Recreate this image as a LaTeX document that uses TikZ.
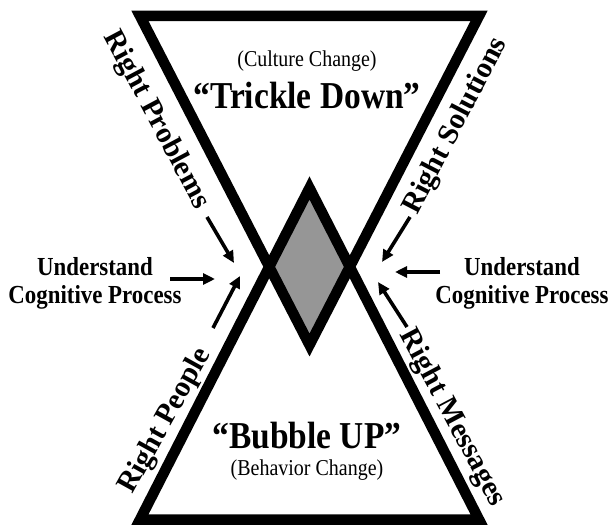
\documentclass[tikz,border=0pt]{standalone}
\usepackage{fontspec}
\setmainfont{Liberation Serif}[FakeStretch=0.88]
\newfontfamily\rotfont{Liberation Serif}
\usetikzlibrary{arrows.meta}
\definecolor{diamondgray}{RGB}{150,150,150}
\begin{document}
\begin{tikzpicture}[x=1bp,y=-1bp,
  tri/.style={line width=10.5bp, line join=miter, draw=black},
  pointer/.style={line width=3.6bp, -{Triangle[length=12bp,width=11bp]}},
  bigtitle/.style={font=\bfseries\fontsize{38bp}{40bp}\selectfont, inner sep=0pt},
  subtitle/.style={font=\fontsize{22.7bp}{24bp}\selectfont, inner sep=0pt},
  sidetext/.style={font=\bfseries\fontsize{26bp}{28bp}\selectfont, align=center, inner sep=0pt},
  edgetext/.style={font=\rotfont\bfseries\fontsize{29.5bp}{31bp}\selectfont, inner sep=0pt}]
\useasboundingbox (0,0) rectangle (611,526);
% triangle corners (centre line)
\coordinate (tl) at (140,16);
\coordinate (tr) at (479,16);
\coordinate (tb) at (309.5,345);
\coordinate (bl) at (140,519.5);
\coordinate (br) at (479,519.5);
\coordinate (bt) at (309.5,188);
% grey overlap
\begin{scope}
  \clip (tl) -- (tr) -- (tb) -- cycle;
  \fill[diamondgray] (bl) -- (br) -- (bt) -- cycle;
\end{scope}
\draw[tri] (tl) -- (tr) -- (tb) -- cycle;
\draw[tri] (bl) -- (br) -- (bt) -- cycle;
% titles
\node[subtitle] (culture) at (307,61) {(Culture Change)};
\node[bigtitle] (trickle) at (307,96) {“Trickle Down”};
\node[bigtitle] (bubble) at (307,436) {“Bubble UP”};
\node[subtitle] (behavior) at (307,470) {(Behavior Change)};
% side texts
\node[sidetext] (ucpL) at (95,283) {Understand\\Cognitive Process};
\node[sidetext] (ucpR) at (522,283) {Understand\\Cognitive Process};
% edge labels
\node[edgetext, rotate=-62] (rprob) at (156,120) {Right Problems};
\node[edgetext, rotate=62.5] (rsol) at (456,126) {Right Solutions};
\node[edgetext, rotate=61] (rpeo) at (166,421) {Right People};
\node[edgetext, rotate=-62] (rmes) at (452,418) {Right Messages};
% arrows
\coordinate (a1s) at (207,217); \coordinate (a1e) at (234,263);
\coordinate (a2s) at (170,279); \coordinate (a2e) at (215,279);
\coordinate (a3s) at (213,328); \coordinate (a3e) at (240,276);
\coordinate (a4s) at (410,217); \coordinate (a4e) at (382,262);
\coordinate (a5s) at (440,272); \coordinate (a5e) at (395,272);
\coordinate (a6s) at (407,327); \coordinate (a6e) at (378,282);
\draw[pointer] (a1s) -- (a1e);
\draw[pointer] (a2s) -- (a2e);
\draw[pointer] (a3s) -- (a3e);
\draw[pointer] (a4s) -- (a4e);
\draw[pointer] (a5s) -- (a5e);
\draw[pointer] (a6s) -- (a6e);
\end{tikzpicture}
\end{document}
